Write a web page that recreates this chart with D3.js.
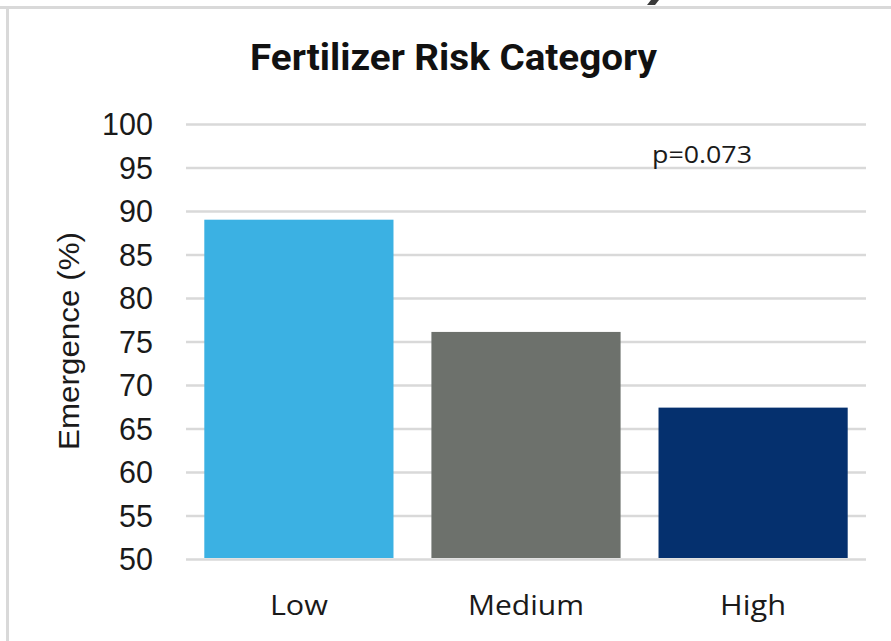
<!DOCTYPE html>
<html>
<head>
<meta charset="utf-8">
<script src="https://cdn.jsdelivr.net/npm/d3@7"></script>
<style>
  html, body { margin: 0; padding: 0; background: #ffffff; }
  svg { display: block; }
</style>
</head>
<body>
<svg id="chart" width="891" height="641"></svg>
<script>
const categories = ["Low", "Medium", "High"];
const emergence = [89.0, 76.1, 67.4];
const barColors = ["#3bb1e3", "#6d716c", "#05306e"];
const yTicks = [50, 55, 60, 65, 70, 75, 80, 85, 90, 95, 100];
const titleText = "Fertilizer Risk Category";
const yLabelText = "Emergence (%)";
const pValueText = "p=0.073";

const svg = d3.select("#chart");
const W = 891, H = 641;

svg.append("rect").attr("width", W).attr("height", H).attr("fill", "#ffffff");

// frame artifacts (cropped border)
svg.append("rect").attr("x", 0).attr("y", 6).attr("width", W).attr("height", 3).attr("fill", "#d9d9d9");
svg.append("rect").attr("x", 6).attr("y", 8).attr("width", 3).attr("height", H - 8).attr("fill", "#d9d9d9");
svg.append("path").attr("d", "M651,0 L659,0 L655,5 L647,5 Z").attr("fill", "#3a3a3a");

const x = d3.scaleBand().domain(categories).range([186, 866]).paddingInner(0.167).paddingOuter(0.0806);
const y = d3.scaleLinear().domain([50, 100]).range([559, 124]);

// gridlines
const yAxis = d3.axisLeft(y).tickValues(yTicks).tickSize(-(866 - 186)).tickPadding(33).tickFormat(d3.format("d"));
const gy = svg.append("g").attr("transform", "translate(186,0)").call(yAxis);
gy.select(".domain").remove();
gy.selectAll(".tick line").attr("stroke", "#d9d9d9").attr("stroke-width", 2.5);
gy.selectAll(".tick text")
  .attr("font-family", "'Liberation Sans', Arial, sans-serif")
  .attr("font-size", 30.5)
  .attr("fill", "#1a1a1a")
  .attr("dy", "0.36em");

// bars
svg.append("g").selectAll("rect.bar")
  .data(categories)
  .join("rect")
  .attr("class", "bar")
  .attr("x", d => x(d))
  .attr("width", x.bandwidth())
  .attr("y", (d, i) => y(emergence[i]))
  .attr("height", (d, i) => y(50) - 1 - y(emergence[i]))
  .attr("fill", (d, i) => barColors[i]);

// x axis labels
const xAxis = d3.axisBottom(x).tickSize(0).tickPadding(0);
const gx = svg.append("g").attr("transform", "translate(0,615)").call(xAxis);
gx.select(".domain").remove();
gx.selectAll(".tick text")
  .attr("font-family", "'Open Sans', 'Noto Sans', sans-serif")
  .attr("font-size", 27)
  .attr("fill", "#1a1a1a")
  .attr("dy", "0")
  .attr("y", 0)
  .each(function(d) {
    const widths = { "Low": 58, "Medium": 116, "High": 66 };
    d3.select(this).attr("textLength", widths[d]).attr("lengthAdjust", "spacingAndGlyphs");
  });

// title
svg.append("text")
  .attr("x", 453.5).attr("y", 70)
  .attr("text-anchor", "middle")
  .attr("font-family", "'Liberation Sans Narrow', 'Roboto', sans-serif")
  .attr("font-weight", "bold")
  .attr("font-size", 37)
  .attr("fill", "#111111")
  .attr("textLength", 407)
  .attr("lengthAdjust", "spacingAndGlyphs")
  .text(titleText);

// y label
svg.append("text")
  .attr("transform", "translate(79,341) rotate(-90)")
  .attr("text-anchor", "middle")
  .attr("font-family", "'Liberation Sans', Arial, sans-serif")
  .attr("font-size", 29)
  .attr("fill", "#1a1a1a")
  .attr("textLength", 218)
  .attr("lengthAdjust", "spacingAndGlyphs")
  .text(yLabelText);

// p-value
svg.append("text")
  .attr("x", 652).attr("y", 163)
  .attr("font-family", "'Open Sans', 'Noto Sans', sans-serif")
  .attr("font-size", 24)
  .attr("fill", "#1a1a1a")
  .attr("textLength", 100)
  .attr("lengthAdjust", "spacingAndGlyphs")
  .text(pValueText);
</script>
</body>
</html>
